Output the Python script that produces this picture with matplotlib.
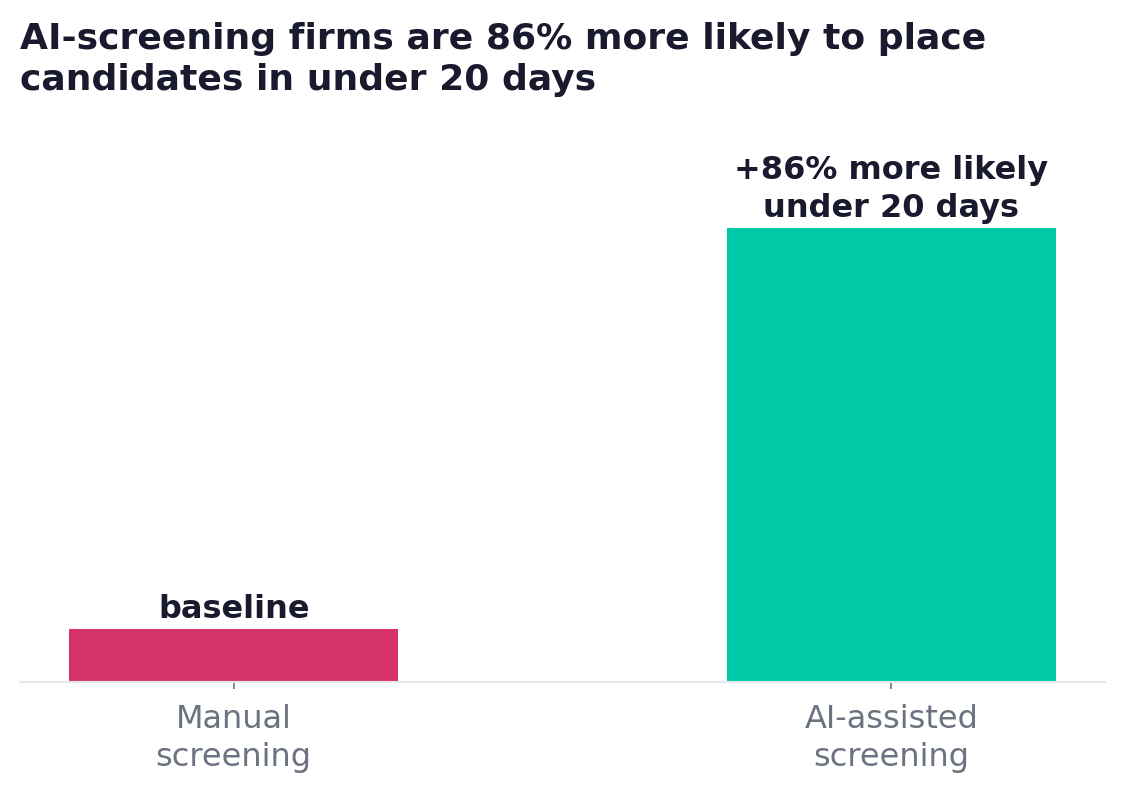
import matplotlib.pyplot as plt

categories = ['Manual\nscreening', 'AI-assisted\nscreening']
values = [10, 86]
labels = ['baseline', '+86% more likely\nunder 20 days']
colors = ['#d6336c', '#00c9a7']

fig = plt.figure(figsize=(11.24, 8.01), dpi=100)
ax = fig.add_axes([0.0178, 0.1486, 0.9653, 0.68])

x = list(range(len(categories)))
bars = ax.bar(x, values, width=0.5, color=colors)

for b, lab in zip(bars, labels):
    ax.annotate(lab, (b.get_x() + b.get_width() / 2, b.get_height()),
                xytext=(0, 3), textcoords='offset points',
                ha='center', va='bottom', fontsize=23, fontweight='bold',
                color='#1a1a2e', linespacing=1.28)

ax.set_xlim(-0.325, 1.325)
ax.set_ylim(0, 103.2)
ax.set_xticks(x)
ax.set_xticklabels(categories, fontsize=23, color='#6b7280', linespacing=1.28)
ax.set_yticks([])
for s in ['top', 'right', 'left']:
    ax.spines[s].set_visible(False)
ax.spines['bottom'].set_color('#e5e7eb')
ax.spines['bottom'].set_linewidth(1.5)
ax.tick_params(axis='x', length=5, width=1.2, color='#6b7280', pad=11)

fig.text(0.0178, 0.973, 'AI-screening firms are 86% more likely to place\ncandidates in under 20 days',
         ha='left', va='top', fontsize=26, fontweight='bold', color='#1a1a2e',
         linespacing=1.28)

fig.savefig('out.png', dpi=100, facecolor='white')
